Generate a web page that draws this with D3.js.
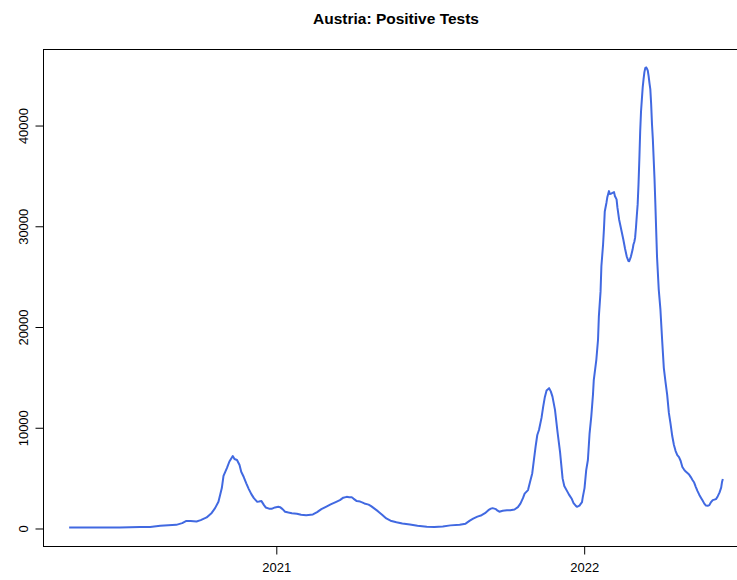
<!DOCTYPE html>
<html>
<head>
<meta charset="utf-8">
<script src="https://cdn.jsdelivr.net/npm/d3@7"></script>
<style>
  html, body { margin: 0; padding: 0; background: #ffffff; }
  svg { display: block; font-family: "Liberation Sans", Arial, Helvetica, sans-serif; }
</style>
</head>
<body>
<svg id="chart" width="737" height="580"></svg>
<script>
const chartTitle = "Austria: Positive Tests";

const dates = [
  "2020-05-01","2020-06-01","2020-06-30","2020-07-24","2020-08-05","2020-08-17","2020-09-05","2020-09-12",
  "2020-09-17","2020-09-22","2020-09-29","2020-10-04","2020-10-11","2020-10-17","2020-10-21","2020-10-25",
  "2020-10-29","2020-10-31","2020-11-04","2020-11-07","2020-11-11","2020-11-13","2020-11-16","2020-11-19",
  "2020-11-21","2020-11-24","2020-11-27","2020-11-30","2020-12-03","2020-12-06","2020-12-10","2020-12-12",
  "2020-12-15","2020-12-18","2020-12-20","2020-12-24","2020-12-27","2020-12-31","2021-01-04","2021-01-06",
  "2021-01-09","2021-01-12","2021-01-16","2021-01-20","2021-01-26","2021-01-31","2021-02-06","2021-02-14",
  "2021-02-19","2021-02-24","2021-03-02","2021-03-07","2021-03-13","2021-03-18","2021-03-22","2021-03-26",
  "2021-03-29","2021-04-01","2021-04-03","2021-04-07","2021-04-11","2021-04-14","2021-04-16","2021-04-21",
  "2021-04-24","2021-04-28","2021-05-02","2021-05-07","2021-05-12","2021-05-17","2021-05-24","2021-05-31",
  "2021-06-09","2021-06-18","2021-06-29","2021-07-08","2021-07-18","2021-07-27","2021-08-07","2021-08-14",
  "2021-08-19","2021-08-23","2021-08-28","2021-09-02","2021-09-06","2021-09-10","2021-09-13","2021-09-15",
  "2021-09-19","2021-09-21","2021-09-23","2021-09-27","2021-10-02","2021-10-06","2021-10-11","2021-10-15",
  "2021-10-18","2021-10-21","2021-10-23","2021-10-27","2021-10-30","2021-11-01","2021-11-03","2021-11-05",
  "2021-11-07","2021-11-09","2021-11-12","2021-11-14","2021-11-16","2021-11-18","2021-11-21","2021-11-23",
  "2021-11-25","2021-11-28","2021-12-01","2021-12-04","2021-12-07","2021-12-09","2021-12-13","2021-12-15",
  "2021-12-18","2021-12-20","2021-12-23","2021-12-24","2021-12-27","2021-12-30","2021-12-31","2022-01-02",
  "2022-01-04","2022-01-06","2022-01-08","2022-01-10","2022-01-12","2022-01-13","2022-01-16","2022-01-18",
  "2022-01-19","2022-01-21","2022-01-22","2022-01-24","2022-01-25","2022-01-26","2022-01-28","2022-01-29",
  "2022-01-31","2022-02-01","2022-02-03","2022-02-06","2022-02-07","2022-02-09","2022-02-10","2022-02-12",
  "2022-02-14","2022-02-17","2022-02-19","2022-02-21","2022-02-23","2022-02-24","2022-02-26","2022-02-28",
  "2022-03-01","2022-03-02","2022-03-03","2022-03-04","2022-03-05","2022-03-06","2022-03-07","2022-03-08",
  "2022-03-09","2022-03-10","2022-03-11","2022-03-12","2022-03-13","2022-03-14","2022-03-15","2022-03-16",
  "2022-03-17","2022-03-18","2022-03-19","2022-03-20","2022-03-21","2022-03-22","2022-03-23","2022-03-24",
  "2022-03-25","2022-03-26","2022-03-27","2022-03-28","2022-03-29","2022-03-31","2022-04-02","2022-04-04",
  "2022-04-06","2022-04-08","2022-04-10","2022-04-12","2022-04-14","2022-04-16","2022-04-18","2022-04-20",
  "2022-04-22","2022-04-24","2022-04-26","2022-04-28","2022-04-30","2022-05-02","2022-05-04","2022-05-06",
  "2022-05-08","2022-05-10","2022-05-12","2022-05-14","2022-05-16","2022-05-18","2022-05-20","2022-05-22",
  "2022-05-24","2022-05-26","2022-05-28","2022-05-30","2022-06-01","2022-06-03","2022-06-05","2022-06-07",
  "2022-06-09","2022-06-11","2022-06-13","2022-06-14","2022-06-15"
];

const positiveTests = [
  40,40,60,100,110,230,310,480,
  700,700,650,780,1050,1500,1970,2600,
  3960,5170,5950,6600,7140,6850,6750,6250,
  5580,5060,4430,3860,3360,2965,2600,2620,
  2670,2270,2040,1920,1900,2040,2100,2070,
  1870,1620,1540,1470,1420,1320,1270,1340,
  1570,1870,2120,2340,2570,2770,3010,3090,
  3060,3060,2920,2670,2620,2520,2440,2320,
  2170,1920,1670,1320,945,725,577,448,
  348,229,130,110,150,260,330,430,
  725,925,1125,1270,1470,1770,1920,1970,
  1870,1720,1620,1720,1770,1770,1840,2070,
  2420,2965,3410,3760,4760,5420,6750,8070,
  9230,9730,10930,12050,13010,13660,13880,13560,
  13040,11720,9530,7540,4925,4160,3560,3260,
  2870,2470,2170,2100,2220,2570,3090,3960,
  5750,6750,9400,11050,13210,14710,16700,18690,
  21000,23460,25980,28140,29630,31420,32290,32820,
  33440,33160,33210,33340,32960,32620,31820,30630,
  29830,28640,27740,26970,26500,26480,26940,27640,
  28140,28390,28840,29830,31020,32120,34110,36600,
  39380,41370,42570,43760,44550,45250,45650,45720,
  45600,45400,44860,44160,43560,42070,40080,38590,
  36600,34610,32120,29430,26850,23660,21670,18690,
  15900,14510,13210,11420,10330,9130,8240,7640,
  7240,7040,6650,6050,5800,5600,5450,5300,
  5050,4760,4510,4060,3660,3310,3010,2720,
  2420,2220,2200,2270,2570,2770,2820,2870,
  3160,3510,4010,4560,4860
];

const xTickLabels = ["2021", "2022"];
const yTickValues = [0, 10000, 20000, 30000, 40000];

const parse = d3.utcParse("%Y-%m-%d");
const data = dates.map((d, i) => ({ date: parse(d), value: positiveTests[i] }));

const svg = d3.select("#chart");
const plot = { left: 43, right: 749, top: 49, bottom: 546 };

// R-style 4% padding of the data range
const xExt = d3.extent(data, d => d.date);
const xPad = (xExt[1] - xExt[0]) * 0.04;
const x = d3.scaleUtc()
  .domain([new Date(+xExt[0] - xPad), new Date(+xExt[1] + xPad)])
  .range([plot.left, plot.right]);

const yExt = d3.extent(data, d => d.value);
const yPad = (yExt[1] - yExt[0]) * 0.04;
const y = d3.scaleLinear()
  .domain([yExt[0] - yPad, yExt[1] + yPad])
  .range([plot.bottom, plot.top]);

// Line
const line = d3.line().x(d => x(d.date)).y(d => y(d.value));
svg.append("path")
  .datum(data)
  .attr("d", line)
  .attr("fill", "none")
  .attr("stroke", "#4169E1")
  .attr("stroke-width", 2)
  .attr("stroke-linejoin", "round");

// Box
svg.append("rect")
  .attr("x", plot.left + 0.5)
  .attr("y", plot.top + 0.5)
  .attr("width", plot.right - plot.left)
  .attr("height", plot.bottom - plot.top)
  .attr("fill", "none")
  .attr("stroke", "#000")
  .attr("stroke-width", 1);

// X axis
const xTickDates = xTickLabels.map(t => parse(t + "-01-01"));
const xAxis = d3.axisBottom(x)
  .tickValues(xTickDates)
  .tickFormat((d, i) => xTickLabels[i])
  .tickSize(8)
  .tickPadding(8);
const gx = svg.append("g")
  .attr("transform", `translate(0.5,${plot.bottom + 0.5})`)
  .call(xAxis);
gx.select(".domain").remove();
gx.selectAll("text").attr("font-size", 13).attr("font-family", "Liberation Sans, Arial, sans-serif").attr("fill", "#000");
gx.selectAll("line").attr("stroke", "#000");

// Y axis
const yAxis = d3.axisLeft(y)
  .tickValues(yTickValues)
  .tickFormat(d3.format("d"))
  .tickSize(8);
const gy = svg.append("g")
  .attr("transform", `translate(${plot.left + 0.5},0.5)`)
  .call(yAxis);
gy.select(".domain").remove();
gy.selectAll("line").attr("stroke", "#000");
gy.selectAll("text")
  .attr("font-size", 13)
  .attr("font-family", "Liberation Sans, Arial, sans-serif")
  .attr("fill", "#000")
  .attr("text-anchor", "middle")
  .attr("x", null)
  .attr("dy", null)
  .attr("transform", "translate(-16,0) rotate(-90)");

// Title
svg.append("text")
  .attr("x", (plot.left + plot.right) / 2)
  .attr("y", 23.5)
  .attr("text-anchor", "middle")
  .attr("font-weight", "bold")
  .attr("font-size", 15.5)
  .attr("fill", "#000")
  .text(chartTitle);
</script>
</body>
</html>
